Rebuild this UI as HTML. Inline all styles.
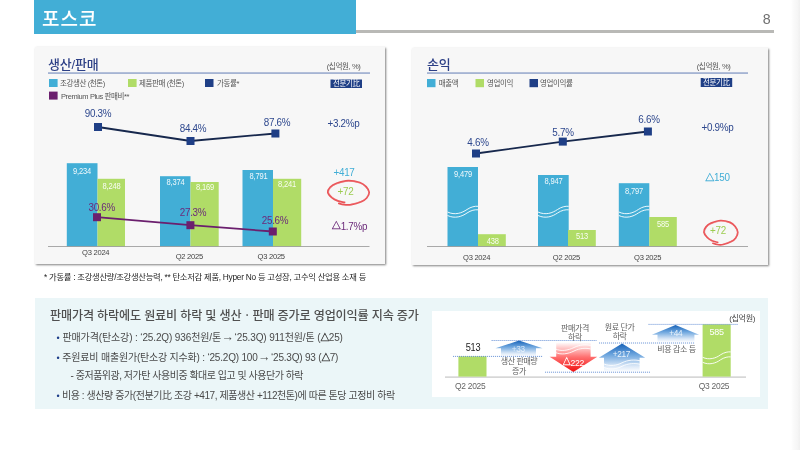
<!DOCTYPE html>
<html lang="ko">
<head>
<meta charset="utf-8">
<title>포스코</title>
<style>
html,body{margin:0;padding:0;background:#fff;}
body{width:800px;height:450px;overflow:hidden;position:relative;font-family:"Liberation Sans","Noto Sans CJK KR",sans-serif;color:#333;}
.abs{position:absolute;}
.hdr{left:34.4px;top:0;width:321.4px;height:33.7px;background:#42aed6;}
.hdr h1{margin:0;position:absolute;left:7.6px;top:7.5px;font-size:19px;line-height:24px;font-weight:500;color:#fff;letter-spacing:1px;}
.hline{left:355.8px;top:30.2px;width:417.8px;height:2.8px;background:#b9b9b6;}
.pageno{left:756.6px;top:10.2px;width:20px;text-align:center;font-size:14.2px;line-height:18px;color:#707070;}
.edge{right:0;top:0;width:9px;height:450px;background:linear-gradient(to right,#ffffff 0%,#fafafa 30%,#f6f6f6 70%,#f0f0f0 100%);}
.panel{background:#f7f7f7;box-shadow:1.4px 1.4px 2px rgba(0,0,0,.5);}
.p1{left:35px;top:47px;width:350px;height:216.5px;}
.p2{left:411.5px;top:47.5px;width:356.7px;height:217.6px;}
.note{left:44px;top:271px;font-size:8.3px;line-height:13px;color:#222;white-space:nowrap;letter-spacing:-0.26px;}
.box{left:35px;top:298px;width:733px;height:111px;background:#ebf6f8;}
.box h2{margin:0;position:absolute;left:15px;top:9.2px;font-size:12.1px;line-height:18px;font-weight:500;color:#505050;white-space:nowrap;letter-spacing:-0.16px;}
.box ul{list-style:none;margin:0;padding:0;}
.box li{position:absolute;left:21.5px;font-size:10px;line-height:14px;color:#4a4a4a;white-space:nowrap;letter-spacing:-0.2px;}
.box li b{color:#1f3f8a;font-weight:400;font-size:9px;margin-right:0.3px;}
.box li i{font-style:normal;font-size:12.5px;line-height:1px;vertical-align:0.2px;margin:0 -2.1px 0 -2.1px;letter-spacing:0;}
.box li em{font-style:normal;font-size:8.8px;letter-spacing:-0.5px;-webkit-text-stroke:0.4px #4a4a4a;}
.box li.sub{left:35.6px;}
.wf{left:431.5px;top:311.4px;width:328.5px;height:86px;background:#fff;}
svg{position:absolute;left:0;top:0;}
svg text{font-family:"Liberation Sans","Noto Sans CJK KR",sans-serif;}
</style>
</head>
<body>
<div class="abs hdr"><h1>포스코</h1></div>
<div class="abs hline"></div>
<div class="abs pageno">8</div>
<div class="abs edge"></div>

<div class="abs panel p1"></div>
<div class="abs panel p2"></div>
<div class="abs note">* 가동률 : 조강생산량/조강생산능력, ** 탄소저감 제품, Hyper No 등 고성장, 고수익 산업용 소재 등</div>

<div class="abs box">
  <h2>판매가격 하락에도 원료비 하락 및 생산ㆍ판매 증가로 영업이익률 지속 증가</h2>
  <ul>
    <li style="top:33.1px;letter-spacing:-0.13px"><b>•</b> 판매가격(탄소강) : ‘25.2Q) 936천원/톤 <i>→</i> ‘25.3Q) 911천원/톤 (<em>△</em>25)</li>
    <li style="top:53.2px;letter-spacing:-0.2px"><b>•</b> 주원료비 매출원가(탄소강 지수화) : ‘25.2Q) 100 <i>→</i> ‘25.3Q) 93 (<em>△</em>7)</li>
    <li class="sub" style="top:71.2px;letter-spacing:-0.49px">- 중저품위광, 저가탄 사용비중 확대로 입고 및 사용단가 하락</li>
    <li style="top:91px;letter-spacing:-0.42px"><b>•</b> 비용 : 생산량 증가(전분기比 조강 +417, 제품생산 +112천톤)에 따른 톤당 고정비 하락</li>
  </ul>
</div>
<div class="abs wf"></div>

<svg width="800" height="450" viewBox="0 0 800 450">
<defs>
  <linearGradient id="gUp" x1="0" y1="0" x2="0" y2="1">
    <stop offset="0" stop-color="#1762b8"/>
    <stop offset="0.4" stop-color="#6ea6de"/>
    <stop offset="0.8" stop-color="#dbe8f7"/>
    <stop offset="1" stop-color="#ffffff"/>
  </linearGradient>
  <linearGradient id="gDn" x1="0" y1="0" x2="0" y2="1">
    <stop offset="0" stop-color="#ffffff"/>
    <stop offset="0.5" stop-color="#ff7070"/>
    <stop offset="1" stop-color="#f01010"/>
  </linearGradient>
</defs>
<g id="c1">
<text transform="translate(48 68.8)" font-size="13" fill="#2c3f86" letter-spacing="-0.2" font-weight="500">생산/판매</text>
<rect x="48" y="72.5" width="322" height="1.1" fill="#7088bb"/>
<text transform="translate(360.5 68.8)" font-size="7.6" fill="#555" text-anchor="end" letter-spacing="-0.4">(십억원, %)</text>
<rect x="49" y="79" width="8.6" height="8" fill="#42aed6"/>
<text transform="translate(60 86)" font-size="7.5" fill="#555" letter-spacing="-0.4">조강생산 (천톤)</text>
<rect x="128" y="79" width="8.6" height="8" fill="#b0dc67"/>
<text transform="translate(139 86)" font-size="7.5" fill="#555" letter-spacing="-0.4">제품판매 (천톤)</text>
<rect x="205" y="79" width="8.5" height="8" fill="#1f3f86"/>
<text transform="translate(217 86)" font-size="7.5" fill="#555" letter-spacing="-0.4">가동률*</text>
<rect x="330.5" y="79.5" width="31.5" height="8.5" fill="#1f3f86"/>
<text transform="translate(346.2 86.3)" font-size="7.5" fill="#fff" text-anchor="middle" letter-spacing="-0.4">전분기比</text>
<rect x="49" y="91.6" width="8.6" height="8" fill="#6b1f6e"/>
<text transform="translate(61 99)" font-size="7.5" fill="#555" letter-spacing="-0.4">Premium Plus 판매비**</text>
<rect x="66.8" y="163.2" width="30.7" height="83.3" fill="#42aed6"/>
<rect x="97.5" y="178.8" width="27.5" height="67.7" fill="#b0dc67"/>
<rect x="160" y="176.2" width="30.5" height="70.3" fill="#42aed6"/>
<rect x="190.5" y="182" width="28.2" height="64.5" fill="#b0dc67"/>
<rect x="242.5" y="170" width="30.5" height="76.5" fill="#42aed6"/>
<rect x="273" y="178.8" width="28.2" height="67.7" fill="#b0dc67"/>
<rect x="48" y="246.1" width="321.5" height="0.8" fill="#959595"/>
<text transform="translate(82 173.6) scale(0.92 1)" font-size="8.2" fill="#fff" text-anchor="middle" letter-spacing="-0.2" opacity="0.92">9,234</text>
<text transform="translate(111.5 188.6) scale(0.92 1)" font-size="8.2" fill="#fff" text-anchor="middle" letter-spacing="-0.2" opacity="0.92">8,248</text>
<text transform="translate(175.5 184.6) scale(0.92 1)" font-size="8.2" fill="#fff" text-anchor="middle" letter-spacing="-0.2" opacity="0.92">8,374</text>
<text transform="translate(205 189.6) scale(0.92 1)" font-size="8.2" fill="#fff" text-anchor="middle" letter-spacing="-0.2" opacity="0.92">8,169</text>
<text transform="translate(258.5 178.6) scale(0.92 1)" font-size="8.2" fill="#fff" text-anchor="middle" letter-spacing="-0.2" opacity="0.92">8,791</text>
<text transform="translate(287 186.6) scale(0.92 1)" font-size="8.2" fill="#fff" text-anchor="middle" letter-spacing="-0.2" opacity="0.92">8,241</text>
<polyline points="98,127 190.5,141 275.4,133.5" fill="none" stroke="#17284d" stroke-width="1.8"/>
<rect x="94" y="123" width="8" height="8" fill="#1f3f86"/>
<rect x="186.5" y="137" width="8" height="8" fill="#1f3f86"/>
<rect x="271.4" y="129.5" width="8" height="8" fill="#1f3f86"/>
<text transform="translate(98 117) scale(0.95 1)" font-size="10.4" fill="#2e488e" text-anchor="middle" letter-spacing="-0.3">90.3%</text>
<text transform="translate(193 132) scale(0.95 1)" font-size="10.4" fill="#2e488e" text-anchor="middle" letter-spacing="-0.3">84.4%</text>
<text transform="translate(277 126) scale(0.95 1)" font-size="10.4" fill="#2e488e" text-anchor="middle" letter-spacing="-0.3">87.6%</text>
<text transform="translate(343.5 126.5) scale(0.95 1)" font-size="10.4" fill="#2e488e" text-anchor="middle" letter-spacing="-0.3">+3.2%p</text>
<polyline points="97,217.2 190.4,225.2 272.8,231.5" fill="none" stroke="#6b1f6e" stroke-width="1.8"/>
<rect x="93" y="213.2" width="8" height="8" fill="#6b1f6e"/>
<rect x="186.4" y="221.2" width="8" height="8" fill="#6b1f6e"/>
<rect x="268.8" y="227.5" width="8" height="8" fill="#6b1f6e"/>
<text transform="translate(101.7 211) scale(0.95 1)" font-size="10.4" fill="#6b2a7a" text-anchor="middle" letter-spacing="-0.3">30.6%</text>
<text transform="translate(193 216) scale(0.95 1)" font-size="10.4" fill="#6b2a7a" text-anchor="middle" letter-spacing="-0.3">27.3%</text>
<text transform="translate(275 223.5) scale(0.95 1)" font-size="10.4" fill="#6b2a7a" text-anchor="middle" letter-spacing="-0.3">25.6%</text>
<text transform="translate(349.5 229.5) scale(0.95 1)" font-size="10.4" fill="#6b2a7a" text-anchor="middle" letter-spacing="-0.3"><tspan dy="-0.5" font-size="0.92em" stroke="#6b2a7a" stroke-width="0.3">△</tspan><tspan dy="0.5">1.7%p</tspan></text>
<text transform="translate(95.7 255.3) scale(0.95 1)" font-size="8" fill="#444" text-anchor="middle" letter-spacing="-0.3">Q3 2024</text>
<text transform="translate(189.3 259.4) scale(0.95 1)" font-size="8" fill="#444" text-anchor="middle" letter-spacing="-0.3">Q2 2025</text>
<text transform="translate(271.2 259.4) scale(0.95 1)" font-size="8" fill="#444" text-anchor="middle" letter-spacing="-0.3">Q3 2025</text>
<text transform="translate(344 175.5) scale(0.95 1)" font-size="10.4" fill="#42aed6" text-anchor="middle" letter-spacing="-0.3">+417</text>
<text transform="translate(345.5 195) scale(0.95 1)" font-size="10.4" fill="#9ccc50" text-anchor="middle" letter-spacing="-0.3">+72</text>
<path d="M344.6 202.4 C343.5 202.1 339.8 201.7 337.7 200.9 C335.6 200.1 333.5 199.0 331.8 197.6 C330.2 196.2 328.1 194.1 327.8 192.3 C327.6 190.5 328.9 188.5 330.3 187.0 C331.8 185.5 333.7 184.3 336.6 183.2 C339.6 182.2 344.3 180.7 348.2 180.6 C352.1 180.5 356.8 181.5 359.8 182.5 C362.7 183.5 364.5 185.0 366.1 186.6 C367.6 188.3 369.1 190.4 369.2 192.3 C369.3 194.2 368.0 196.4 366.7 198.0 C365.4 199.5 363.8 200.6 361.2 201.8 C358.7 202.9 354.2 204.2 351.3 204.6 C348.5 205.1 346.1 204.9 344.0 204.6 C341.9 204.4 339.6 203.6 338.8 203.4" fill="none" stroke="#e8454a" stroke-width="1.7" stroke-linecap="round" stroke-linejoin="round" opacity="0.92"/>
<path d="M338.3 200.5 C337.3 200.0 334.2 198.8 332.6 197.4 C331.0 196.1 329.0 194.1 328.7 192.4 C328.5 190.7 329.8 188.8 331.2 187.4 C332.6 185.9 334.4 184.8 337.3 183.8 C340.1 182.8 344.7 181.4 348.4 181.3 C352.1 181.1 356.7 182.1 359.5 183.1 C362.4 184.0 364.1 185.5 365.6 187.0 C367.1 188.6 368.6 190.6 368.7 192.4 C368.8 194.2 367.5 196.3 366.2 197.8 C364.9 199.3 363.4 200.3 361.0 201.4 C358.5 202.4 353.0 203.7 351.4 204.1" fill="none" stroke="#ee6a6e" stroke-width="0.8" stroke-linecap="round" opacity="0.7"/>
</g>
<g id="c2">
<text transform="translate(427 68.8)" font-size="13" fill="#2c3f86" letter-spacing="-0.2" font-weight="500">손익</text>
<rect x="427" y="72.5" width="321" height="1.1" fill="#7088bb"/>
<text transform="translate(730.5 68.7)" font-size="7.6" fill="#555" text-anchor="end" letter-spacing="-0.4">(십억원, %)</text>
<rect x="427" y="79" width="8.5" height="8.2" fill="#42aed6"/>
<text transform="translate(438.8 86)" font-size="7.5" fill="#555" letter-spacing="-0.4">매출액</text>
<rect x="475.5" y="79" width="8.5" height="8.2" fill="#b0dc67"/>
<text transform="translate(487 86)" font-size="7.5" fill="#555" letter-spacing="-0.4">영업이익</text>
<rect x="529.5" y="79" width="8.5" height="8.2" fill="#1f3f86"/>
<text transform="translate(540 86)" font-size="7.5" fill="#555" letter-spacing="-0.4">영업이익률</text>
<rect x="700.7" y="78" width="31.5" height="9" fill="#1f3f86"/>
<text transform="translate(716.4 85.2)" font-size="7.5" fill="#fff" text-anchor="middle" letter-spacing="-0.4">전분기比</text>
<rect x="447.5" y="167" width="30.5" height="79.5" fill="#42aed6"/>
<rect x="478" y="234.2" width="27.8" height="12.3" fill="#b0dc67"/>
<rect x="538" y="175" width="30.7" height="71.5" fill="#42aed6"/>
<rect x="568" y="230" width="27.8" height="16.5" fill="#b0dc67"/>
<rect x="618.8" y="183.2" width="30.5" height="63.3" fill="#42aed6"/>
<rect x="649.3" y="217" width="27.5" height="29.5" fill="#b0dc67"/>
<rect x="427" y="246.1" width="321" height="0.8" fill="#959595"/>
<g fill="none" stroke="#fff" stroke-width="0.9">
<path d="M447.5 212 C455.0 215.5 462.0 213 467.0 209.5 C471.0 206.8 475.0 206 478 206.3"/>
<path d="M447.5 215.5 C455.0 219.0 462.0 216.5 467.0 213.0 C471.0 210.3 475.0 209.5 478 209.8"/>
<path d="M538 212 C545.5 215.5 552.5 213 557.5 209.5 C561.5 206.8 565.5 206 568.7 206.3"/>
<path d="M538 215.5 C545.5 219.0 552.5 216.5 557.5 213.0 C561.5 210.3 565.5 209.5 568.7 209.8"/>
<path d="M618.8 212 C626.3 215.5 633.3 213 638.3 209.5 C642.3 206.8 646.3 206 649.3 206.3"/>
<path d="M618.8 215.5 C626.3 219.0 633.3 216.5 638.3 213.0 C642.3 210.3 646.3 209.5 649.3 209.8"/>
</g>
<text transform="translate(463 176.6) scale(0.92 1)" font-size="8.2" fill="#fff" text-anchor="middle" letter-spacing="-0.2" opacity="0.92">9,479</text>
<text transform="translate(492.8 243.7) scale(0.92 1)" font-size="8.2" fill="#fff" text-anchor="middle" letter-spacing="-0.2" opacity="0.92">438</text>
<text transform="translate(553.5 183.6) scale(0.92 1)" font-size="8.2" fill="#fff" text-anchor="middle" letter-spacing="-0.2" opacity="0.92">8,947</text>
<text transform="translate(582 239.3) scale(0.92 1)" font-size="8.2" fill="#fff" text-anchor="middle" letter-spacing="-0.2" opacity="0.92">513</text>
<text transform="translate(634 193.6) scale(0.92 1)" font-size="8.2" fill="#fff" text-anchor="middle" letter-spacing="-0.2" opacity="0.92">8,797</text>
<text transform="translate(663 226.6) scale(0.92 1)" font-size="8.2" fill="#fff" text-anchor="middle" letter-spacing="-0.2" opacity="0.92">585</text>
<polyline points="476,153.5 562.8,141.6 647.9,131.5" fill="none" stroke="#17284d" stroke-width="1.8"/>
<rect x="472" y="149.5" width="8" height="8" fill="#1f3f86"/>
<rect x="558.8" y="137.6" width="8" height="8" fill="#1f3f86"/>
<rect x="643.9" y="127.5" width="8" height="8" fill="#1f3f86"/>
<text transform="translate(478 146) scale(0.95 1)" font-size="10.4" fill="#2e488e" text-anchor="middle" letter-spacing="-0.3">4.6%</text>
<text transform="translate(563 136) scale(0.95 1)" font-size="10.4" fill="#2e488e" text-anchor="middle" letter-spacing="-0.3">5.7%</text>
<text transform="translate(649 123) scale(0.95 1)" font-size="10.4" fill="#2e488e" text-anchor="middle" letter-spacing="-0.3">6.6%</text>
<text transform="translate(717.5 131) scale(0.95 1)" font-size="10.4" fill="#2e488e" text-anchor="middle" letter-spacing="-0.3">+0.9%p</text>
<text transform="translate(717.5 181) scale(0.95 1)" font-size="10.4" fill="#42aed6" text-anchor="middle" letter-spacing="-0.3"><tspan dy="-0.5" font-size="0.92em" stroke="#42aed6" stroke-width="0.3">△</tspan><tspan dy="0.5">150</tspan></text>
<text transform="translate(476.6 260.2) scale(0.95 1)" font-size="8" fill="#444" text-anchor="middle" letter-spacing="-0.3">Q3 2024</text>
<text transform="translate(566.4 260.2) scale(0.95 1)" font-size="8" fill="#444" text-anchor="middle" letter-spacing="-0.3">Q2 2025</text>
<text transform="translate(647.6 260.2) scale(0.95 1)" font-size="8" fill="#444" text-anchor="middle" letter-spacing="-0.3">Q3 2025</text>
<text transform="translate(718 234.3) scale(0.95 1)" font-size="10.4" fill="#9ccc50" text-anchor="middle" letter-spacing="-0.3">+72</text>
<path d="M717.7 242.3 C716.7 242.0 713.7 241.6 712.0 240.8 C710.3 240.0 708.5 238.9 707.2 237.5 C705.8 236.1 704.1 234.0 703.9 232.2 C703.7 230.4 704.8 228.4 706.0 226.9 C707.2 225.4 708.7 224.2 711.1 223.1 C713.6 222.1 717.4 220.6 720.6 220.5 C723.8 220.4 727.6 221.4 730.1 222.4 C732.5 223.4 733.9 224.9 735.2 226.5 C736.5 228.2 737.7 230.3 737.8 232.2 C737.9 234.1 736.8 236.3 735.7 237.9 C734.6 239.4 733.4 240.5 731.3 241.6 C729.2 242.8 725.5 244.1 723.2 244.5 C720.8 245.0 718.9 244.8 717.2 244.5 C715.4 244.3 713.6 243.5 712.9 243.3" fill="none" stroke="#e8454a" stroke-width="1.7" stroke-linecap="round" stroke-linejoin="round" opacity="0.92"/>
<path d="M712.5 240.4 C711.7 239.9 709.2 238.7 707.9 237.3 C706.6 236.0 704.9 234.0 704.7 232.3 C704.5 230.6 705.5 228.7 706.7 227.3 C707.9 225.8 709.3 224.7 711.7 223.7 C714.0 222.7 717.8 221.3 720.8 221.2 C723.8 221.0 727.6 222.0 729.9 223.0 C732.3 223.9 733.7 225.4 734.9 226.9 C736.2 228.5 737.3 230.5 737.4 232.3 C737.5 234.1 736.5 236.2 735.4 237.7 C734.4 239.2 733.1 240.2 731.1 241.3 C729.1 242.3 724.6 243.6 723.3 244.0" fill="none" stroke="#ee6a6e" stroke-width="0.8" stroke-linecap="round" opacity="0.7"/>
</g>
<g id="wf">
<rect x="445" y="376.5" width="301" height="1.2" fill="#c6c6c6"/>
<rect x="458.4" y="356.4" width="28.1" height="20.2" fill="#b0dc67"/>
<rect x="702.6" y="324.4" width="28.1" height="52.2" fill="#b0dc67"/>
<g fill="none" stroke="#fff" stroke-width="0.9">
<path d="M702.6 357.3 C709 360.3 716 358.3 720.5 354.8 C724.5 352.3 728 351.6 730.7 351.9"/>
<path d="M702.6 362.3 C709 365.3 716 363.3 720.5 359.8 C724.5 357.3 728 356.6 730.7 356.9"/>
</g>
<path d="M519 340.6 L542.6 348.3 L536 348.3 L536 356.4 L501 356.4 L501 348.3 L495.4 348.3 Z" fill="url(#gUp)"/>
<path d="M556.2 342.3 L590.6 342.3 L590.6 356.8 L597.3 356.8 L573.4 371.9 L549.6 356.8 L556.2 356.8 Z" fill="url(#gDn)"/>
<path d="M622.1 343.6 L645.2 357.7 L639.6 357.7 L639.6 371.8 L604 371.8 L604 357.7 L598.8 357.7 Z" fill="url(#gUp)"/>
<path d="M675.5 325 L699.1 334.7 L694.4 334.7 L694.4 342.4 L657.5 342.4 L657.5 334.7 L651.9 334.7 Z" fill="url(#gUp)"/>
<g fill="none" stroke="#fff" stroke-width="0.9" opacity="0.95">
<path d="M555.5 349 C561 351.5 568 350.5 574 347.5 C580 344.5 586 344.3 590.8 345.5"/>
<path d="M555.5 352.5 C561 355 568 354 574 351 C580 348 586 347.8 590.8 349"/>
<path d="M604 364 C610 366.5 617 365.5 622 362.8 C628 359.8 635 359.5 640 360.8"/>
<path d="M604 367.5 C610 370 617 369 622 366.3 C628 363.3 635 363 640 364.3"/>
</g>
<g stroke="#4478cc" stroke-width="0.75" stroke-dasharray="1.1 0.9" fill="none">
<path d="M453 356.4 H543"/>
<path d="M491.6 340.5 H596.5"/>
<path d="M545 372.2 H650"/>
<path d="M599 343 H695"/>
<path d="M648.5 324.4 H738.5"/>
</g>
<text transform="translate(473 351) scale(0.92 1)" font-size="10" fill="#222" text-anchor="middle" letter-spacing="-0.3">513</text>
<text transform="translate(716.6 335) scale(0.92 1)" font-size="9.8" fill="#fff" text-anchor="middle" letter-spacing="-0.3">585</text>
<text transform="translate(518.3 352.1) scale(0.92 1)" font-size="9" fill="#fff" text-anchor="middle" letter-spacing="-0.3" opacity="0.7">+33</text>
<text transform="translate(573.4 365.6) scale(0.92 1)" font-size="9.4" fill="#fff" text-anchor="middle" letter-spacing="-0.3"><tspan dy="-0.5" font-size="0.92em" stroke="#fff" stroke-width="0.3">△</tspan><tspan dy="0.5">222</tspan></text>
<text transform="translate(621.4 357) scale(0.92 1)" font-size="9" fill="#fff" text-anchor="middle" letter-spacing="-0.3" opacity="0.85">+217</text>
<text transform="translate(675.8 336) scale(0.92 1)" font-size="9" fill="#fff" text-anchor="middle" letter-spacing="-0.3" opacity="0.85">+44</text>
<text transform="translate(519 364)" font-size="8" fill="#606060" text-anchor="middle" letter-spacing="-0.4">생산 판매량</text>
<text transform="translate(519 373.5)" font-size="8" fill="#606060" text-anchor="middle" letter-spacing="-0.4">증가</text>
<text transform="translate(575 331)" font-size="8" fill="#606060" text-anchor="middle" letter-spacing="-0.4">판매가격</text>
<text transform="translate(575 340.3)" font-size="8" fill="#606060" text-anchor="middle" letter-spacing="-0.4">하락</text>
<text transform="translate(619.6 330)" font-size="8" fill="#606060" text-anchor="middle" letter-spacing="-0.4">원료 단가</text>
<text transform="translate(619.6 339.3)" font-size="8" fill="#606060" text-anchor="middle" letter-spacing="-0.4">하락</text>
<text transform="translate(676.5 351.7)" font-size="8" fill="#606060" text-anchor="middle" letter-spacing="-0.4">비용 감소 등</text>
<text transform="translate(470.2 388.6) scale(0.92 1)" font-size="9.2" fill="#666" text-anchor="middle" letter-spacing="-0.3">Q2 2025</text>
<text transform="translate(714 388.6) scale(0.92 1)" font-size="9.2" fill="#666" text-anchor="middle" letter-spacing="-0.3">Q3 2025</text>
<text transform="translate(755 321.3)" font-size="8.1" fill="#444" text-anchor="end" letter-spacing="-0.4">(십억원)</text>
</g>
</svg>
</body>
</html>
